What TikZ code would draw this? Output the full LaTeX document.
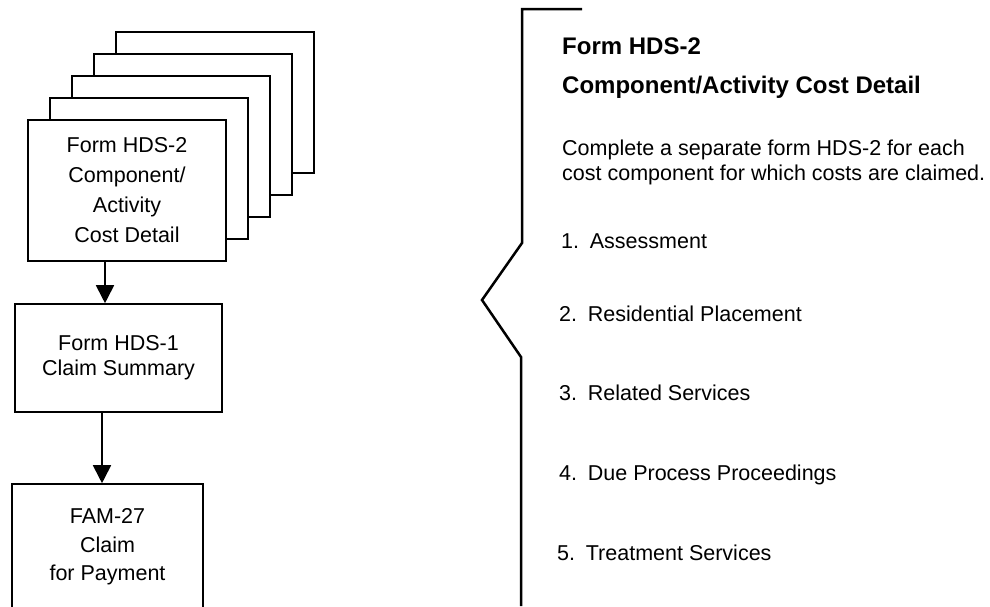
\documentclass[tikz,border=0pt]{standalone}
\usepackage{fontspec}
\setmainfont{Liberation Sans}
\usetikzlibrary{arrows.meta,positioning}

\tikzset{
  sheet/.style={draw=black, line width=1.6pt, fill=white, minimum width=198pt, minimum height=141pt, inner sep=0pt},
  form/.style={draw=black, line width=1.6pt, fill=white, inner sep=0pt, align=center},
  flow/.style={line width=1.8pt, -{Triangle[width=18pt,length=18pt]}},
  brace/.style={line width=2.5pt, line join=miter},
  txt/.style={anchor=base west, inner sep=0pt, font={\fontsize{21.5pt}{26pt}\selectfont}},
  head/.style={anchor=base west, inner sep=0pt, font={\bfseries\fontsize{24pt}{28pt}\selectfont}},
}

\begin{document}
\begin{tikzpicture}[x=1pt,y=-1pt]
\clip (0,0) rectangle (990,606);
\fill[white] (0,0) rectangle (990,606);
% stack of HDS-2 forms
\node[sheet] (sheet4) at (215,102.5) {};
\node[sheet] (sheet3) at (193,124.5) {};
\node[sheet] (sheet2) at (171,146.5) {};
\node[sheet] (sheet1) at (149,168.5) {};
\node[form, minimum width=198pt, minimum height=141pt,
  font={\fontsize{21.5pt}{30pt}\selectfont}] (hds2) at (127,190.5)
  {Form HDS-2\\Component/\\Activity\\Cost Detail};
\node[form, minimum width=207pt, minimum height=108pt,
  font={\fontsize{21.5pt}{25pt}\selectfont}] (hds1) at (118.5,358)
  {Form HDS-1\\Claim Summary};
\node[form, minimum width=191pt, minimum height=126pt,
  font={\fontsize{21.5pt}{28.5pt}\selectfont}] (fam) at (107.5,547)
  {FAM-27\\Claim\\for Payment};
\draw[flow] ([xshift=-22pt]hds2.south) -- ([xshift=-22pt]hds2.south |- hds1.north);
\draw[flow] ([xshift=-16.5pt]hds1.south) -- ([xshift=-16.5pt]hds1.south |- fam.north);
% bracket
\draw[brace] (582,9) -- (522,9) -- (522,243) -- (482,300) -- (521,357) -- (521,606);
% description
\node[head] (title) at (562,54) {Form HDS-2};
\node[head] (subtitle) at (562,93) {Component/Activity Cost Detail};
\node[txt] (note1) at (562,155) {Complete a separate form HDS-2 for each};
\node[txt] (note2) at (562,180) {cost component for which costs are claimed.};
\node[txt] (item1) at (561,248) {1.\enspace Assessment};
\node[txt] (item2) at (559,321) {2.\enspace Residential Placement};
\node[txt] (item3) at (559,400) {3.\enspace Related Services};
\node[txt] (item4) at (559,480) {4.\enspace Due Process Proceedings};
\node[txt] (item5) at (557,560) {5.\enspace Treatment Services};
\end{tikzpicture}
\end{document}
